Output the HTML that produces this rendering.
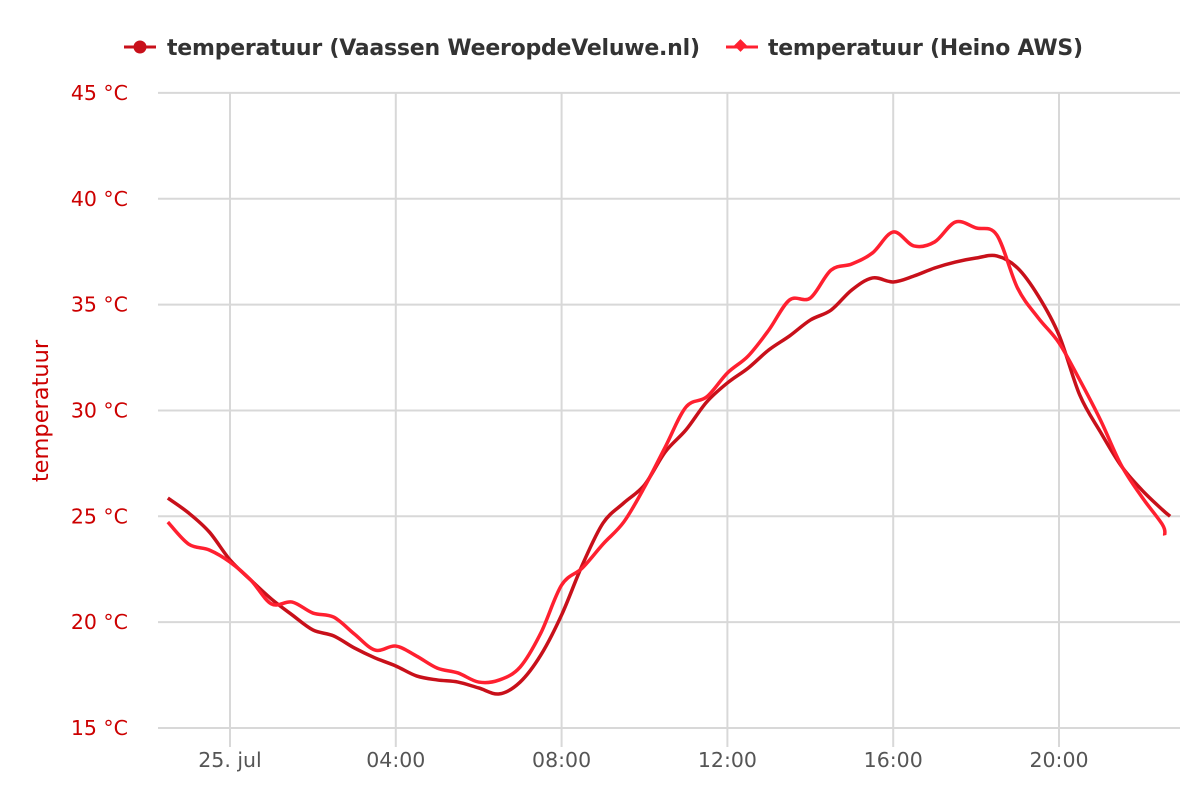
<!DOCTYPE html>
<html><head><meta charset="utf-8"><style>
body{margin:0;background:#fff;}
svg{display:block;font-family:"DejaVu Sans","Liberation Sans",sans-serif;}
</style></head><body>
<svg id="chart" width="1200" height="800">
<g id="grid"></g>
<g id="yaxis"></g>
<g id="xaxis"></g>
<text x="48" y="411" fill="#cc0000" font-size="22.5" text-anchor="middle" transform="rotate(-90 48 411)">temperatuur</text>
<g id="series"></g>
<g>
<g>
<line x1="124" y1="47" x2="156" y2="47" stroke="#c8101a" stroke-width="3"/>
<circle cx="140" cy="47" r="6.5" fill="#c8101a"/>
<text x="167" y="55" font-size="22" font-weight="bold" fill="#333" textLength="533">temperatuur (Vaassen WeeropdeVeluwe.nl)</text>
</g>
<g>
<line x1="726" y1="47" x2="758" y2="47" stroke="#ff2030" stroke-width="3"/>
<rect x="736" y="41" width="9" height="9" fill="#ff2030" transform="rotate(45 740.5 45.5)"/>
<text x="768" y="55" font-size="22" font-weight="bold" fill="#333" textLength="315">temperatuur (Heino AWS)</text>
</g>
</g>
</svg>
<script>
const yTicks=[15,20,25,30,35,40,45];
const xTickHours=[0,4,8,12,16,20];
const xTickLabels=["25. jul","04:00","08:00","12:00","16:00","20:00"];
const hours=[-1.5,-1,-0.5,0,0.5,1,1.5,2,2.5,3,3.5,4,4.5,5,5.5,6,6.5,7,7.5,8,8.5,9,9.5,10,10.5,11,11.5,12,12.5,13,13.5,14,14.5,15,15.5,16,16.5,17,17.5,18,18.5,19,19.5,20,20.5,21,21.5,22,22.5];
const vaassen=[25.86,25.16,24.26,22.94,21.99,21.09,20.34,19.63,19.35,18.78,18.31,17.93,17.46,17.27,17.17,16.89,16.61,17.17,18.45,20.34,22.7,24.68,25.63,26.48,28.04,29.08,30.4,31.3,32.0,32.86,33.52,34.27,34.74,35.69,36.26,36.07,36.35,36.73,37.01,37.2,37.3,36.73,35.41,33.56,30.73,28.98,27.38,26.24,25.3];
const heino=[24.73,23.69,23.41,22.84,21.99,20.86,20.95,20.43,20.24,19.44,18.68,18.87,18.4,17.83,17.6,17.17,17.27,17.88,19.49,21.75,22.56,23.69,24.73,26.38,28.27,30.16,30.64,31.77,32.57,33.8,35.22,35.31,36.63,36.92,37.44,38.43,37.77,37.96,38.9,38.62,38.29,35.78,34.37,33.19,31.44,29.55,27.42,25.91,24.59];
const vaassenEnd=[22.68,25.0];
const heinoEnd=[22.55,24.1];

const X=h=>230+41.45*h;
const Y=t=>728-(t-15)*21.17;
const NS="http://www.w3.org/2000/svg";
function mk(tag,attrs,parent){const e=document.createElementNS(NS,tag);for(const k in attrs)e.setAttribute(k,attrs[k]);parent.appendChild(e);return e;}
const grid=document.getElementById('grid'),ya=document.getElementById('yaxis'),xa=document.getElementById('xaxis'),ser=document.getElementById('series');
yTicks.forEach(t=>{
  const l=mk('line',{x1:158,x2:1180,y1:Y(t),y2:Y(t),stroke:'#d8d8d8','stroke-width':2},grid);
  
  
  const tx=mk('text',{x:128,y:Y(t)+7,'text-anchor':'end','font-size':20.5,fill:'#cc0000'},ya);
  tx.textContent=t+' °C';
  
  
});
xTickHours.forEach((h,i)=>{
  const l=mk('line',{x1:X(h),x2:X(h),y1:93,y2:747,stroke:'#d8d8d8','stroke-width':2},grid);
  
  
  const tx=mk('text',{x:X(h),y:767,'text-anchor':'middle','font-size':20.5,fill:'#555'},xa);
  tx.textContent=xTickLabels[i];
  
  
});
function path(hs,ts,end){
  const p=hs.map((h,i)=>[X(h),Y(ts[i])]);p.push([X(end[0]),Y(end[1])]);
  let d='M'+p[0][0]+','+p[0][1];
  for(let i=0;i<p.length-1;i++){
    const p0=p[Math.max(0,i-1)],p1=p[i],p2=p[i+1],p3=p[Math.min(p.length-1,i+2)];
    const c1=[p1[0]+(p2[0]-p0[0])/6,p1[1]+(p2[1]-p0[1])/6],c2=[p2[0]-(p3[0]-p1[0])/6,p2[1]-(p3[1]-p1[1])/6];
    d+=' C'+c1+' '+c2+' '+p2;
  }
  return d;
}
const a=mk('path',{d:path(hours,vaassen,vaassenEnd),fill:'none',stroke:'#c8101a','stroke-width':3.5,'stroke-linejoin':'round'},ser);


const b=mk('path',{d:path(hours,heino,heinoEnd),fill:'none',stroke:'#ff2030','stroke-width':3.5,'stroke-linejoin':'round'},ser);


</script>
</body></html>
